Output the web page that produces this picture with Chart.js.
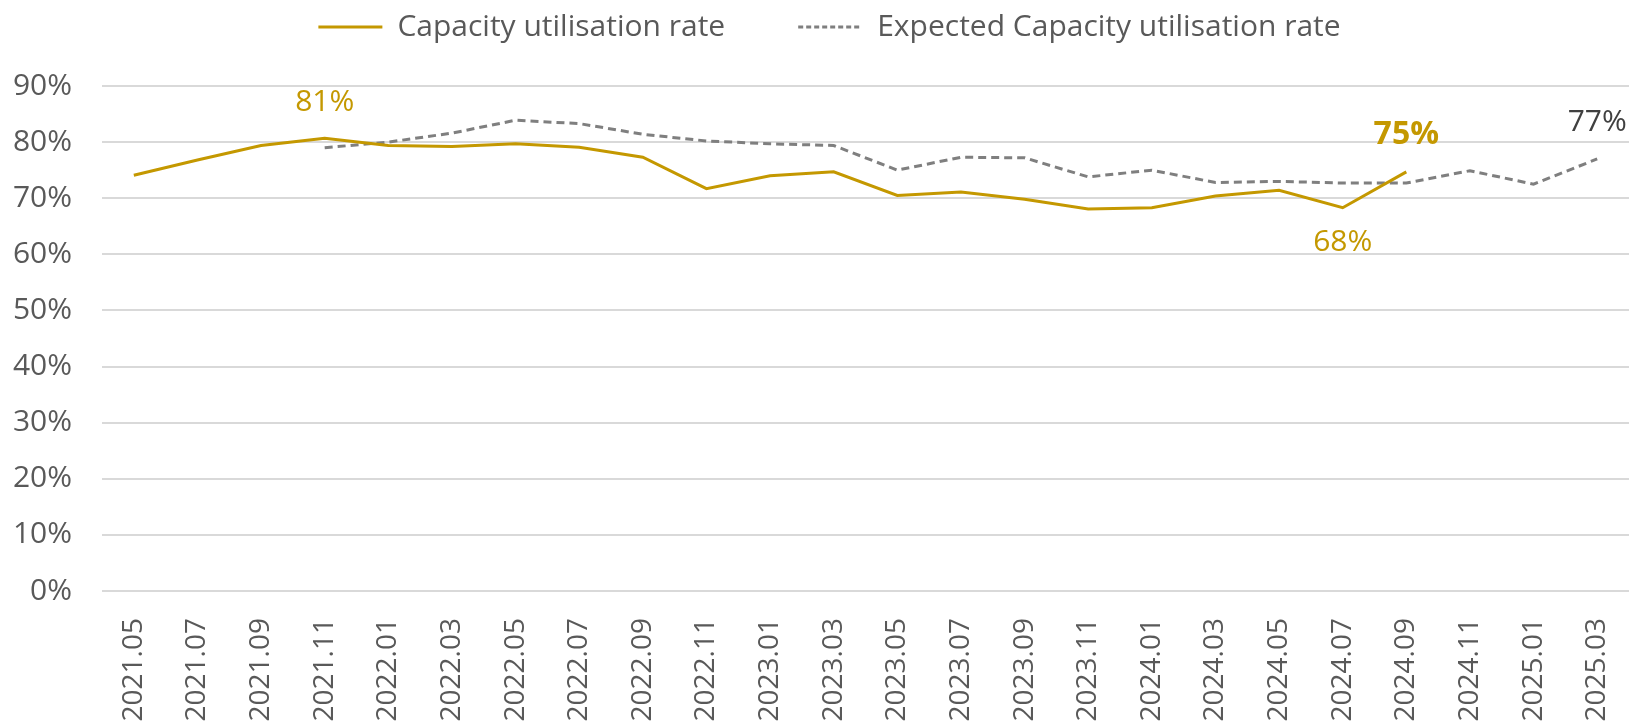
<!DOCTYPE html>
<html>
<head>
<meta charset="utf-8">
<script src="https://cdn.jsdelivr.net/npm/chart.js@4.4.1/dist/chart.umd.min.js"></script>
<style>
  html, body { margin: 0; padding: 0; background: #ffffff; }
  #wrap { width: 1641px; height: 724px; position: relative; }
</style>
</head>
<body>
<div id="wrap"><canvas id="c" width="1641" height="724"></canvas></div>
<script>
// ---- data ----
const categories = ['2021.05','2021.07','2021.09','2021.11','2022.01','2022.03','2022.05','2022.07','2022.09','2022.11',
  '2023.01','2023.03','2023.05','2023.07','2023.09','2023.11','2024.01','2024.03','2024.05','2024.07','2024.09','2024.11','2025.01','2025.03'];
const seriesNames = ['Capacity utilisation rate', 'Expected Capacity utilisation rate'];
const capacity = [74.1, 76.8, 79.4, 80.7, 79.4, 79.2, 79.7, 79.1, 77.3, 71.7,
  74.0, 74.7, 70.5, 71.1, 69.8, 68.1, 68.3, 70.4, 71.4, 68.3, 74.7, null, null, null];
const expected = [null, null, null, 79.0, 80.0, 81.6, 83.9, 83.3, 81.4, 80.2,
  79.7, 79.4, 75.0, 77.3, 77.2, 73.8, 75.0, 72.8, 73.0, 72.7, 72.7, 74.9, 72.5, 77.0];
const yTicks = [0, 10, 20, 30, 40, 50, 60, 70, 80, 90];
const pointLabels = [
  { dataset: 0, index: 3,  text: '81%' },
  { dataset: 0, index: 19, text: '68%' },
  { dataset: 0, index: 20, text: '75%' },
  { dataset: 1, index: 23, text: '77%' }
];

// ---- styles ----
const GOLD = '#C49800';
const GREY = '#7F7F7F';
const FONT = "'Open Sans', 'DejaVu Sans', sans-serif";
const labelStyles = [
  { dy: -36, color: GOLD, weight: 'normal', size: 30 },
  { dy: 35,  color: GOLD, weight: 'normal', size: 30 },
  { dy: -37, color: GOLD, weight: 'bold',   size: 32 },
  { dy: -36, color: '#404040', weight: 'normal', size: 30 }
];
const legendDashes = [[], [5, 3]];

const legendFitPlugin = {
  id: 'legendFit',
  beforeUpdate(chart) {
    const lg = chart.legend;
    if (lg && !lg._wrappedFit) {
      const orig = lg.fit;
      lg.fit = function () { orig.call(this); this.height = 147; };
      lg._wrappedFit = true;
    }
  },
  afterLayout(chart) {
    const lg = chart.legend;
    if (lg) { lg.left += 15; lg.right += 15; }
  }
};

const pointLabelPlugin = {
  id: 'pointLabels',
  afterDatasetsDraw(chart) {
    const ctx = chart.ctx;
    ctx.save();
    ctx.textAlign = 'center';
    ctx.textBaseline = 'middle';
    pointLabels.forEach((pl, k) => {
      const st = labelStyles[k];
      const el = chart.getDatasetMeta(pl.dataset).data[pl.index];
      ctx.font = st.weight + ' ' + st.size + 'px ' + FONT;
      ctx.fillStyle = st.color;
      ctx.fillText(pl.text, el.x, el.y + st.dy);
    });
    ctx.restore();
  }
};

new Chart(document.getElementById('c'), {
  type: 'line',
  data: {
    labels: categories,
    datasets: [
      {
        label: seriesNames[0],
        data: capacity,
        borderColor: GOLD,
        backgroundColor: GOLD,
        borderWidth: 3,
        pointRadius: 0,
        tension: 0,
        spanGaps: false
      },
      {
        label: seriesNames[1],
        data: expected,
        borderColor: GREY,
        backgroundColor: GREY,
        borderWidth: 3,
        borderDash: [8, 5],
        pointRadius: 0,
        tension: 0,
        spanGaps: false
      }
    ]
  },
  options: {
    responsive: false,
    animation: false,
    devicePixelRatio: 1,
    layout: { padding: { top: -61, left: 0, right: 12, bottom: 0 } },
    plugins: {
      legend: {
        display: true,
        position: 'top',
        align: 'center',
        labels: {
          usePointStyle: true,
          pointStyle: 'line',
          pointStyleWidth: 64,
          padding: 73,
          color: '#595959',
          font: { family: FONT, size: 30 },
          generateLabels(chart) {
            return chart.data.datasets.map((ds, i) => ({
              text: ds.label,
              fillStyle: ds.backgroundColor,
              strokeStyle: ds.borderColor,
              lineWidth: 3,
              lineDash: legendDashes[i],
              pointStyle: 'line',
              fontColor: '#595959',
              hidden: false,
              datasetIndex: i
            }));
          }
        }
      },
      tooltip: { enabled: false }
    },
    scales: {
      x: {
        type: 'category',
        offset: true,
        grid: { display: false, drawTicks: false },
        border: { display: false },
        ticks: {
          autoSkip: false,
          minRotation: 90,
          maxRotation: 90,
          padding: 27,
          color: '#595959',
          font: { family: FONT, size: 28 }
        },
        afterFit(scale) { scale.height = 133; scale.paddingLeft = 0; scale.paddingRight = 0; }
      },
      y: {
        min: 0,
        max: 90,
        afterBuildTicks(scale) { scale.ticks = yTicks.map(v => ({ value: v })); },
        grid: { color: '#D9D9D9', lineWidth: 2, drawTicks: false },
        border: { display: false },
        ticks: {
          padding: 30,
          color: '#595959',
          font: { family: FONT, size: 30 },
          callback: (v) => v + '%'
        },
        afterFit(scale) { scale.width = 102; }
      }
    }
  },
  plugins: [legendFitPlugin, pointLabelPlugin]
});
</script>
</body>
</html>
